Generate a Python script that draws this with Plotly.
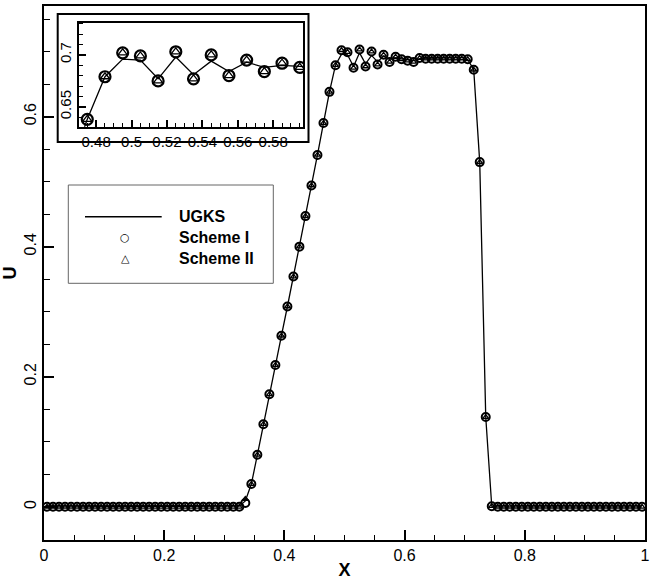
import plotly.graph_objects as go

# ---------------- data ----------------
x_cells = [0.005, 0.015, 0.025, 0.035, 0.045, 0.055, 0.065, 0.075, 0.085, 0.095,
           0.105, 0.115, 0.125, 0.135, 0.145, 0.155, 0.165, 0.175, 0.185, 0.195,
           0.205, 0.215, 0.225, 0.235, 0.245, 0.255, 0.265, 0.275, 0.285, 0.295,
           0.305, 0.315, 0.325, 0.335, 0.345, 0.355, 0.365, 0.375, 0.385, 0.395,
           0.405, 0.415, 0.425, 0.435, 0.445, 0.455, 0.465, 0.475, 0.485, 0.495,
           0.505, 0.515, 0.525, 0.535, 0.545, 0.555, 0.565, 0.575, 0.585, 0.595,
           0.605, 0.615, 0.625, 0.635, 0.645, 0.655, 0.665, 0.675, 0.685, 0.695,
           0.705, 0.715, 0.725, 0.735, 0.745, 0.755, 0.765, 0.775, 0.785, 0.795,
           0.805, 0.815, 0.825, 0.835, 0.845, 0.855, 0.865, 0.875, 0.885, 0.895,
           0.905, 0.915, 0.925, 0.935, 0.945, 0.955, 0.965, 0.975, 0.985, 0.995]

u_ugks = [0, 0, 0, 0, 0, 0, 0, 0, 0, 0,
          0, 0, 0, 0, 0, 0, 0, 0, 0, 0,
          0, 0, 0, 0, 0, 0, 0, 0, 0, 0,
          0, 0, 0.001, 0.009, 0.035, 0.080, 0.127, 0.173, 0.218, 0.263,
          0.308, 0.354, 0.400, 0.447, 0.494, 0.541, 0.590, 0.638, 0.679, 0.696,
          0.695, 0.677, 0.698, 0.681, 0.694, 0.684, 0.693, 0.688, 0.690, 0.689,
          0.687, 0.686, 0.689, 0.689, 0.689, 0.689, 0.689, 0.689, 0.689, 0.689,
          0.688, 0.672, 0.530, 0.138, 0.001, 0, 0, 0, 0, 0,
          0, 0, 0, 0, 0, 0, 0, 0, 0, 0,
          0, 0, 0, 0, 0, 0, 0, 0, 0, 0]

u_scheme1 = [0, 0, 0, 0, 0, 0, 0, 0, 0, 0,
             0, 0, 0, 0, 0, 0, 0, 0, 0, 0,
             0, 0, 0, 0, 0, 0, 0, 0, 0, 0,
             0, 0, 0, 0.006, 0.035, 0.080, 0.127, 0.173, 0.218, 0.263,
             0.308, 0.354, 0.400, 0.447, 0.494, 0.541, 0.590, 0.638, 0.679, 0.702,
             0.699, 0.675, 0.703, 0.677, 0.700, 0.680, 0.695, 0.684, 0.692, 0.688,
             0.686, 0.684, 0.690, 0.689, 0.689, 0.689, 0.689, 0.689, 0.689, 0.689,
             0.688, 0.672, 0.530, 0.138, 0.001, 0, 0, 0, 0, 0,
             0, 0, 0, 0, 0, 0, 0, 0, 0, 0,
             0, 0, 0, 0, 0, 0, 0, 0, 0, 0]

u_scheme2 = [0, 0, 0, 0, 0, 0, 0, 0, 0, 0,
             0, 0, 0, 0, 0, 0, 0, 0, 0, 0,
             0, 0, 0, 0, 0, 0, 0, 0, 0, 0,
             0, 0, 0, 0.012, 0.035, 0.080, 0.127, 0.173, 0.218, 0.263,
             0.308, 0.354, 0.400, 0.447, 0.494, 0.541, 0.590, 0.638, 0.679, 0.702,
             0.699, 0.675, 0.703, 0.677, 0.700, 0.680, 0.695, 0.684, 0.692, 0.688,
             0.686, 0.684, 0.690, 0.689, 0.689, 0.689, 0.689, 0.689, 0.689, 0.689,
             0.688, 0.672, 0.530, 0.138, 0.001, 0, 0, 0, 0, 0,
             0, 0, 0, 0, 0, 0, 0, 0, 0, 0,
             0, 0, 0, 0, 0, 0, 0, 0, 0, 0]

series_names = ["UGKS", "Scheme I", "Scheme II"]
main_xticks = [0, 0.2, 0.4, 0.6, 0.8, 1]
main_yticks = [0, 0.2, 0.4, 0.6]
inset_xticks = [0.48, 0.5, 0.52, 0.54, 0.56, 0.58]
inset_yticks = [0.65, 0.7]

# ---------------- figure ----------------
W, H = 652, 582
L, R, T, B = 44, 7, 6, 42
pw, ph = W - L - R, H - T - B

def px(xp):
    return (xp - L) / pw

def py(yp):
    return (H - B - yp) / ph

FONT = "Liberation Sans, Arial, Helvetica, sans-serif"
fig = go.Figure()

for xa, ya, msz_c, msz_t in (("x", "y", 8, 5), ("x2", "y2", 11, 8)):
    fig.add_trace(go.Scatter(x=x_cells, y=u_ugks, mode="lines", name=series_names[0],
                             line=dict(color="black", width=1.3), xaxis=xa, yaxis=ya,
                             showlegend=False, cliponaxis=True))
    fig.add_trace(go.Scatter(x=x_cells, y=u_scheme1, mode="markers", name=series_names[1],
                             marker=dict(symbol="circle-open", size=msz_c, color="black",
                                         line=dict(width=2 if xa == "x" else 2.2, color="black")),
                             xaxis=xa, yaxis=ya, showlegend=False, cliponaxis=True))
    fig.add_trace(go.Scatter(x=x_cells, y=u_scheme2, mode="markers", name=series_names[2],
                             marker=dict(symbol="triangle-up-open", size=msz_t, color="black",
                                         line=dict(width=1.3, color="black")),
                             xaxis=xa, yaxis=ya, showlegend=False, cliponaxis=True))

axis_common = dict(showgrid=False, zeroline=False, showline=True, linecolor="black",
                   mirror=True, ticks="inside", tickcolor="black")

fig.update_layout(
    width=W, height=H,
    margin=dict(l=L, r=R, t=T, b=B, autoexpand=False),
    paper_bgcolor="white", plot_bgcolor="white",
    showlegend=False,
    font=dict(family=FONT, color="black"),
    xaxis=dict(axis_common, domain=[0, 1], range=[0, 1], tickvals=main_xticks,
               ticklen=10, tickwidth=1.8, linewidth=2.2,
               minor=dict(dtick=0.05, ticks="inside", ticklen=5, tickcolor="black", tickwidth=1),
               tickfont=dict(size=16, family=FONT),
               title=dict(text="<b>X</b>", font=dict(size=18, family=FONT), standoff=0)),
    yaxis=dict(axis_common, domain=[0, 1], range=[-0.051, 0.770], tickvals=main_yticks,
               ticklen=10, tickwidth=1.8, linewidth=2.2, tickangle=-90,
               minor=dict(dtick=0.05, ticks="inside", ticklen=6, tickcolor="black", tickwidth=1),
               tickfont=dict(size=16, family=FONT),
               title=dict(text="<b>U</b>", font=dict(size=18, family=FONT), standoff=4)),
    xaxis2=dict(axis_common, domain=[px(79.3), px(303.3)], range=[0.4705, 0.597],
                anchor="y2", tickvals=inset_xticks, ticktext=["0.48", "0.5", "0.52", "0.54", "0.56", "0.58"],
                ticklen=7, tickwidth=1.5, linewidth=2,
                minor=dict(dtick=0.005, ticks="inside", ticklen=4, tickcolor="black", tickwidth=1),
                tickfont=dict(size=15, family=FONT)),
    yaxis2=dict(axis_common, domain=[py(126.7), py(22.7)], range=[0.6309, 0.731],
                anchor="x2", tickvals=inset_yticks, tickangle=-90,
                ticklen=7, tickwidth=1.5, linewidth=2,
                minor=dict(dtick=0.01, ticks="inside", ticklen=4, tickcolor="black", tickwidth=1),
                tickfont=dict(size=15, family=FONT)),
)

# inset outer frame
fig.add_shape(type="rect", xref="paper", yref="paper",
              x0=px(57.7), x1=px(308.5), y0=py(142), y1=py(14),
              line=dict(color="black", width=2), fillcolor="rgba(0,0,0,0)", layer="above")

# legend box (drawn manually to mimic the original layout)
fig.add_shape(type="rect", xref="paper", yref="paper",
              x0=px(68.3), x1=px(273.3), y0=py(283.3), y1=py(185),
              line=dict(color="#666666", width=1), fillcolor="rgba(0,0,0,0)", layer="above")
fig.add_shape(type="line", xref="paper", yref="paper",
              x0=px(85), x1=px(161.7), y0=py(216.7), y1=py(216.7),
              line=dict(color="black", width=1.5), layer="above")
legend_rows = [216.7, 237.3, 258.3]
legend_keys = ["", "○", "△"]
for name, row, key in zip(series_names, legend_rows, legend_keys):
    fig.add_annotation(xref="paper", yref="paper", x=px(176.7), y=py(row),
                       text="<b>%s</b>" % name, showarrow=False, xanchor="left",
                       yanchor="middle", font=dict(size=16, family=FONT, color="black"))
    if key:
        fig.add_annotation(xref="paper", yref="paper", x=px(125), y=py(row),
                           text=key, showarrow=False, xanchor="center", yanchor="middle",
                           font=dict(size=11, family="DejaVu Sans", color="black"))

fig.write_html("out.html", config={"displayModeBar": False},
               post_script="document.body.style.margin='0';document.body.style.overflow='hidden';")
